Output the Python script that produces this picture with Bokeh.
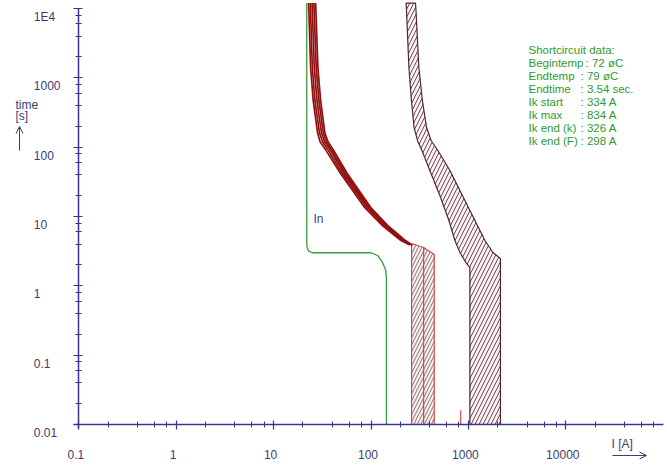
from bokeh.plotting import figure
from bokeh.models import Range1d, FixedTicker, Label, Arrow, OpenHead
from bokeh.embed import file_html
from bokeh.resources import INLINE

# ---------------- data ----------------
x_ticks = [0.1, 1, 10, 100, 1000, 10000]
x_tick_labels = ["0.1", "1", "10", "100", "1000", "10000"]
x_minor_ticks = [0.2, 0.4, 0.6, 0.8, 2, 4, 6, 8, 20, 40, 60, 80, 200, 400, 600, 800,
                 2000, 4000, 6000, 8000, 20000, 40000, 60000, 80000]
y_ticks = [0.01, 0.1, 1, 10, 100, 1000, 10000]
y_tick_labels = ["0.01", "0.1", "1", "10", "100", "1000", "1E4"]
y_minor_ticks = [0.02, 0.04, 0.06, 0.08, 0.2, 0.4, 0.6, 0.8, 2, 4, 6, 8, 20, 40, 60, 80,
                 200, 400, 600, 800, 2000, 4000, 6000, 8000]

# cable curve (green)
cable_i = [21.9, 21.9, 22.1, 22.8, 25, 100, 117, 131, 142, 144, 144]
cable_t = [12000, 4.1, 3.57, 3.2, 3.0, 3.0, 2.74, 2.19, 1.66, 1.26, 0.01]

# fuse melting curves (dark red bundle)
fuse_t = [12000, 1400, 470, 160, 120, 90, 42, 13.5, 7.4, 4.5, 3.9]
fuse_a_i = [22.9, 24.0, 25.5, 28.3, 30.0, 34.5, 48.5, 86, 131, 203, 248]
fuse_b_i = [23.8, 25.0, 26.6, 29.6, 31.8, 36.5, 50.5, 90, 137, 210, 253]
fuse_c_i = [24.8, 26.2, 27.9, 31.0, 33.4, 38.4, 52.8, 93.5, 141, 216, 257]
fuse_d_i = [25.9, 27.4, 29.2, 32.4, 34.8, 39.8, 54.6, 96.5, 145, 221, 260]
fuse_e_i = [27.0, 28.5, 30.4, 33.6, 36.2, 41.4, 56.8, 99.5, 149, 226, 263]

# short-circuit zone below the fuse curves
zone_i = [261, 347, 446, 446, 261]
zone_t = [4.08, 3.57, 2.83, 0.01, 0.01]
zone_mid_i = [347, 347]
zone_mid_t = [3.57, 0.01]

# Ik max marker
spike_i = [834, 834]
spike_t = [0.01, 0.016]

# upstream device band
band2_left_i = [229, 231, 245, 260, 277, 300, 333, 402, 509, 631, 727, 818, 942, 1035, 1035]
band2_left_t = [12000, 10000, 1410, 471, 192, 125, 89.5, 46.1, 20.1, 8.75, 4.51, 3.03, 2.17, 1.84, 0.01]
band2_right_i = [286, 289, 310, 337, 372, 414, 486, 646, 868, 1167, 1479, 1786, 2133, 2133]
band2_right_t = [12000, 10000, 1410, 471, 192, 125, 89.5, 46.1, 20.1, 8.75, 4.51, 3.03, 2.48, 0.01]

info_labels = ["Shortcircuit data:", "Begintemp", "Endtemp", "Endtime", "Ik start",
               "Ik max", "Ik end (k)", "Ik end (F)"]
info_values = ["", ": 72 øC", ": 79 øC", ": 3.54 sec.", ": 334 A", ": 834 A", ": 326 A", ": 298 A"]

# ---------------- layout / style ----------------
W, H = 667, 467
FL, FB = 8, 459          # frame left / bottom in canvas px
X0_PX, DEC_X = 78.3, 97.4  # pixel of I=0.1, px per decade
Y0_PX, DEC_Y = 424.0, 69.33  # pixel of t=0.01, px per decade

FONT = "Liberation Sans"
AXIS = "#35358c"
TICKTXT = "#3d3d6e"
GREEN = "#3a9a3a"
TXTGREEN = "#2f9a2f"
DARKRED = "#921010"
RED = "#d44848"


def sx(px):
    return px - FL


def sy(py):
    # text baselines render ~4px lower than requested; compensate
    return FB - py + 4


x_rng = Range1d(0.1 * 10 ** (-(X0_PX - FL) / DEC_X), 0.1 * 10 ** ((W - X0_PX) / DEC_X))
y_rng = Range1d(0.01 * 10 ** (-(FB - Y0_PX) / DEC_Y), 0.01 * 10 ** (Y0_PX / DEC_Y))

p = figure(width=W, height=H, x_axis_type="log", y_axis_type="log",
           x_range=x_rng, y_range=y_rng,
           output_backend="svg", toolbar_location=None,
           min_border_left=FL, min_border_right=0, min_border_top=0, min_border_bottom=H - FB)
p.outline_line_color = None
p.grid.visible = False
p.background_fill_color = "white"
p.border_fill_color = "white"

p.xaxis.fixed_location = 0.01
p.yaxis.fixed_location = 0.1
p.xaxis.bounds = (0.1 * 10 ** (-5 / DEC_X), 1e5)
p.yaxis.bounds = (0.01 * 10 ** (-4 / DEC_Y), 1e4)

for ax, ticks, minors in ((p.xaxis[0], x_ticks, x_minor_ticks), (p.yaxis[0], y_ticks, y_minor_ticks)):
    ax.ticker = FixedTicker(ticks=ticks, minor_ticks=minors)
    ax.major_label_text_font_size = "0px"
    ax.major_label_text_color = None
    ax.major_label_standoff = 0
    ax.axis_line_color = AXIS
    ax.axis_line_width = 1.5
    ax.major_tick_line_color = AXIS
    ax.minor_tick_line_color = AXIS
    ax.major_tick_line_width = 1.2
    ax.minor_tick_line_width = 1
    ax.major_tick_in = 4
    ax.major_tick_out = 5
    ax.minor_tick_in = 3
    ax.minor_tick_out = 3

# upstream band
p.patch(band2_left_i + band2_right_i[::-1], band2_left_t + band2_right_t[::-1],
        fill_color="#fcf0f2", line_color="#4e2636", line_width=1.2,
        hatch_pattern="/", hatch_color="#5e3a44", hatch_scale=8, hatch_weight=0.9)

# zone
p.patch(zone_i, zone_t, fill_color="#fcf0f0", line_color=RED, line_width=1.2,
        hatch_pattern="/", hatch_color="#6b5050", hatch_scale=7, hatch_weight=0.8)
p.line(zone_mid_i, zone_mid_t, line_color=RED, line_width=1.2)
p.line(spike_i, spike_t, line_color=RED, line_width=1.2)

# cable
p.line(cable_i, cable_t, line_color=GREEN, line_width=1.3)

# fuse curves
for xi in (fuse_a_i, fuse_b_i, fuse_c_i, fuse_d_i, fuse_e_i):
    p.line(xi, fuse_t, line_color=DARKRED, line_width=1.7)


def lab(text, x, y, color=TICKTXT, size="12px", align="left", **kw):
    p.add_layout(Label(x=x, y=y, text=text, text_align=align, text_baseline="alphabetic",
                       text_font=FONT, text_font_size=size, text_color=color, **kw))


# tick labels (data positions)
for v, s in zip(x_ticks, x_tick_labels):
    lab(s, v, 0.01, align="center", x_offset=-3, y_offset=-30)
for v, s in zip(y_ticks, y_tick_labels):
    lab(s, 0.1, v, x_offset=-45, y_offset=-8)

# axis titles
lab("time", sx(15), sy(108), x_units="screen", y_units="screen")
lab("[s]", sx(15), sy(119), x_units="screen", y_units="screen")
p.add_layout(Arrow(x_start=sx(19), y_start=FB - 150, x_end=sx(19), y_end=FB - 126,
                   start_units="screen", end_units="screen", line_color=TICKTXT, line_width=1,
                   end=OpenHead(size=7, line_color=TICKTXT, line_width=1)))
lab("I [A]", sx(611), sy(447), x_units="screen", y_units="screen")
p.add_layout(Arrow(x_start=sx(612), y_start=FB - 455, x_end=sx(646), y_end=FB - 455,
                   start_units="screen", end_units="screen", line_color=TICKTXT, line_width=1,
                   end=OpenHead(size=7, line_color=TICKTXT, line_width=1)))

# "In" label
lab("In", sx(313), sy(222), color="#3d3d8a", x_units="screen", y_units="screen")

# short-circuit info
for i, (txt, val) in enumerate(zip(info_labels, info_values)):
    base = 53 + 13 * i
    lab(txt, sx(528), sy(base), color=TXTGREEN, size="11.5px", x_units="screen", y_units="screen")
    if val:
        vx = 585 if i == 1 else 580
        lab(val, sx(vx), sy(base), color=TXTGREEN, size="11.5px", x_units="screen", y_units="screen")

open("out.html", "w").write(file_html(p, INLINE))
